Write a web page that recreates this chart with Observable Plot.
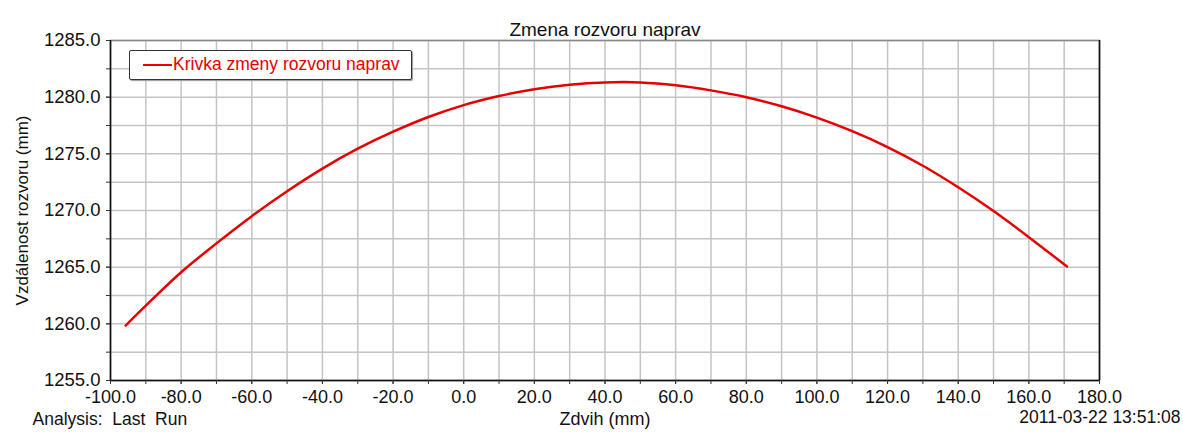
<!DOCTYPE html>
<html>
<head>
<meta charset="utf-8">
<script src="https://cdn.jsdelivr.net/npm/d3@7"></script>
<script src="https://cdn.jsdelivr.net/npm/@observablehq/plot@0.6"></script>
<style>
  html, body { margin: 0; padding: 0; background: #fff; }
  #wrap { position: relative; width: 1183px; height: 432px; font-family: "Liberation Sans", Arial, sans-serif; }
  #legend { position: absolute; left: 129px; top: 50px; width: 281px; height: 28px; border: 1.5px solid #333; border-radius: 2px; background: #fff; box-shadow: 1px 1px 1px #999; }
  #legend .sw { position: absolute; left: 13px; top: 13px; width: 29px; height: 0; border-top: 2px solid #e60000; }
  #legend .lb { position: absolute; left: 43px; top: 3px; font-size: 17.5px; color: #e60000; white-space: nowrap; }
</style>
</head>
<body>
<div id="wrap">
  <div id="chart"></div>
  <div id="legend"><div class="sw"></div><div class="lb">Krivka zmeny rozvoru naprav</div></div>
</div>
<script>
const titleText = "Zmena rozvoru naprav";
const xLabel = "Zdvih (mm)";
const yLabel = "Vzdálenost rozvoru (mm)";
const analysisText = "Analysis:  Last  Run";
const dateText = "2011-03-22 13:51:08";
const seriesName = "Krivka zmeny rozvoru naprav";

const zdvih = [-95.7, -90, -80, -70, -60, -50, -40, -30, -20, -10, 0, 10, 20, 30, 40, 50, 60, 70, 80, 90, 100, 110, 120, 130, 140, 150, 160, 170.8];
const rozvor = [1259.85, 1261.6, 1264.55, 1267.1, 1269.5, 1271.7, 1273.7, 1275.45, 1276.95, 1278.25, 1279.3, 1280.1, 1280.7, 1281.1, 1281.3, 1281.3, 1281.05, 1280.6, 1280.0, 1279.2, 1278.2, 1277.0, 1275.6, 1273.95, 1272.05, 1269.95, 1267.65, 1265.05];

const xTicks = [-100, -80, -60, -40, -20, 0, 20, 40, 60, 80, 100, 120, 140, 160, 180];
const xMinor = [-100, -90, -80, -70, -60, -50, -40, -30, -20, -10, 0, 10, 20, 30, 40, 50, 60, 70, 80, 90, 100, 110, 120, 130, 140, 150, 160, 170, 180];
const yTicks = [1255, 1260, 1265, 1270, 1275, 1280, 1285];
const yMinor = [1255, 1257.5, 1260, 1262.5, 1265, 1267.5, 1270, 1272.5, 1275, 1277.5, 1280, 1282.5, 1285];

const data = zdvih.map((x, i) => ({x, y: rozvor[i]}));
const gridColor = "#c4c4c4";
const fmt = d => d.toFixed(1);

const chart = Plot.plot({
  width: 1183,
  height: 432,
  marginLeft: 110,
  marginRight: 84,
  marginTop: 40,
  marginBottom: 52,
  style: {fontFamily: "'Liberation Sans', Arial, sans-serif", fontSize: "18px", color: "#111", background: "#fff"},
  x: {domain: [-100, 180], label: null},
  y: {domain: [1255, 1285], label: null},
  marks: [
    Plot.ruleX(xMinor, {stroke: gridColor, strokeWidth: 1.5}),
    Plot.ruleY(yMinor, {stroke: gridColor, strokeWidth: 1.5}),
    Plot.frame({stroke: "#888", strokeWidth: 1.5}),
    Plot.ruleY([1255], {stroke: "#111", strokeWidth: 1.5}),
    Plot.ruleX([-100], {stroke: "#111", strokeWidth: 1.5}),
    Plot.ruleX([180], {stroke: "#111", strokeWidth: 1.5}),
    Plot.axisX(xMinor, {tickSize: 4, tickFormat: () => "", stroke: "#333"}),
    Plot.axisX(xTicks, {tickSize: 4, tickPadding: 6, tickFormat: fmt, fontSize: 18, stroke: "#333", fill: "#111"}),
    Plot.axisY(yMinor, {tickSize: 4, tickFormat: () => "", stroke: "#333"}),
    Plot.axisY(yTicks, {tickSize: 4, tickPadding: 6, tickFormat: fmt, fontSize: 18.5, stroke: "#333", fill: "#111"}),
    Plot.line(data, {x: "x", y: "y", stroke: "#e60000", strokeWidth: 2.5, curve: "catmull-rom"}),
    Plot.text([titleText], {frameAnchor: "top", dy: -18, fontSize: 19, fill: "#111"}),
    Plot.text([xLabel], {frameAnchor: "bottom", dy: 44, fontSize: 18, fill: "#111"}),
    Plot.text([yLabel], {frameAnchor: "left", dx: -88, rotate: -90, textAnchor: "middle", fontSize: 17, fill: "#111"}),
    Plot.text([analysisText], {frameAnchor: "bottom-left", dx: -78, dy: 44, textAnchor: "start", fontSize: 17.5, fill: "#111"}),
    Plot.text([dateText], {frameAnchor: "bottom-right", dx: 81, dy: 42.5, textAnchor: "end", fontSize: 17.5, fill: "#111"})
  ]
});
document.getElementById("chart").appendChild(chart);
</script>
</body>
</html>
